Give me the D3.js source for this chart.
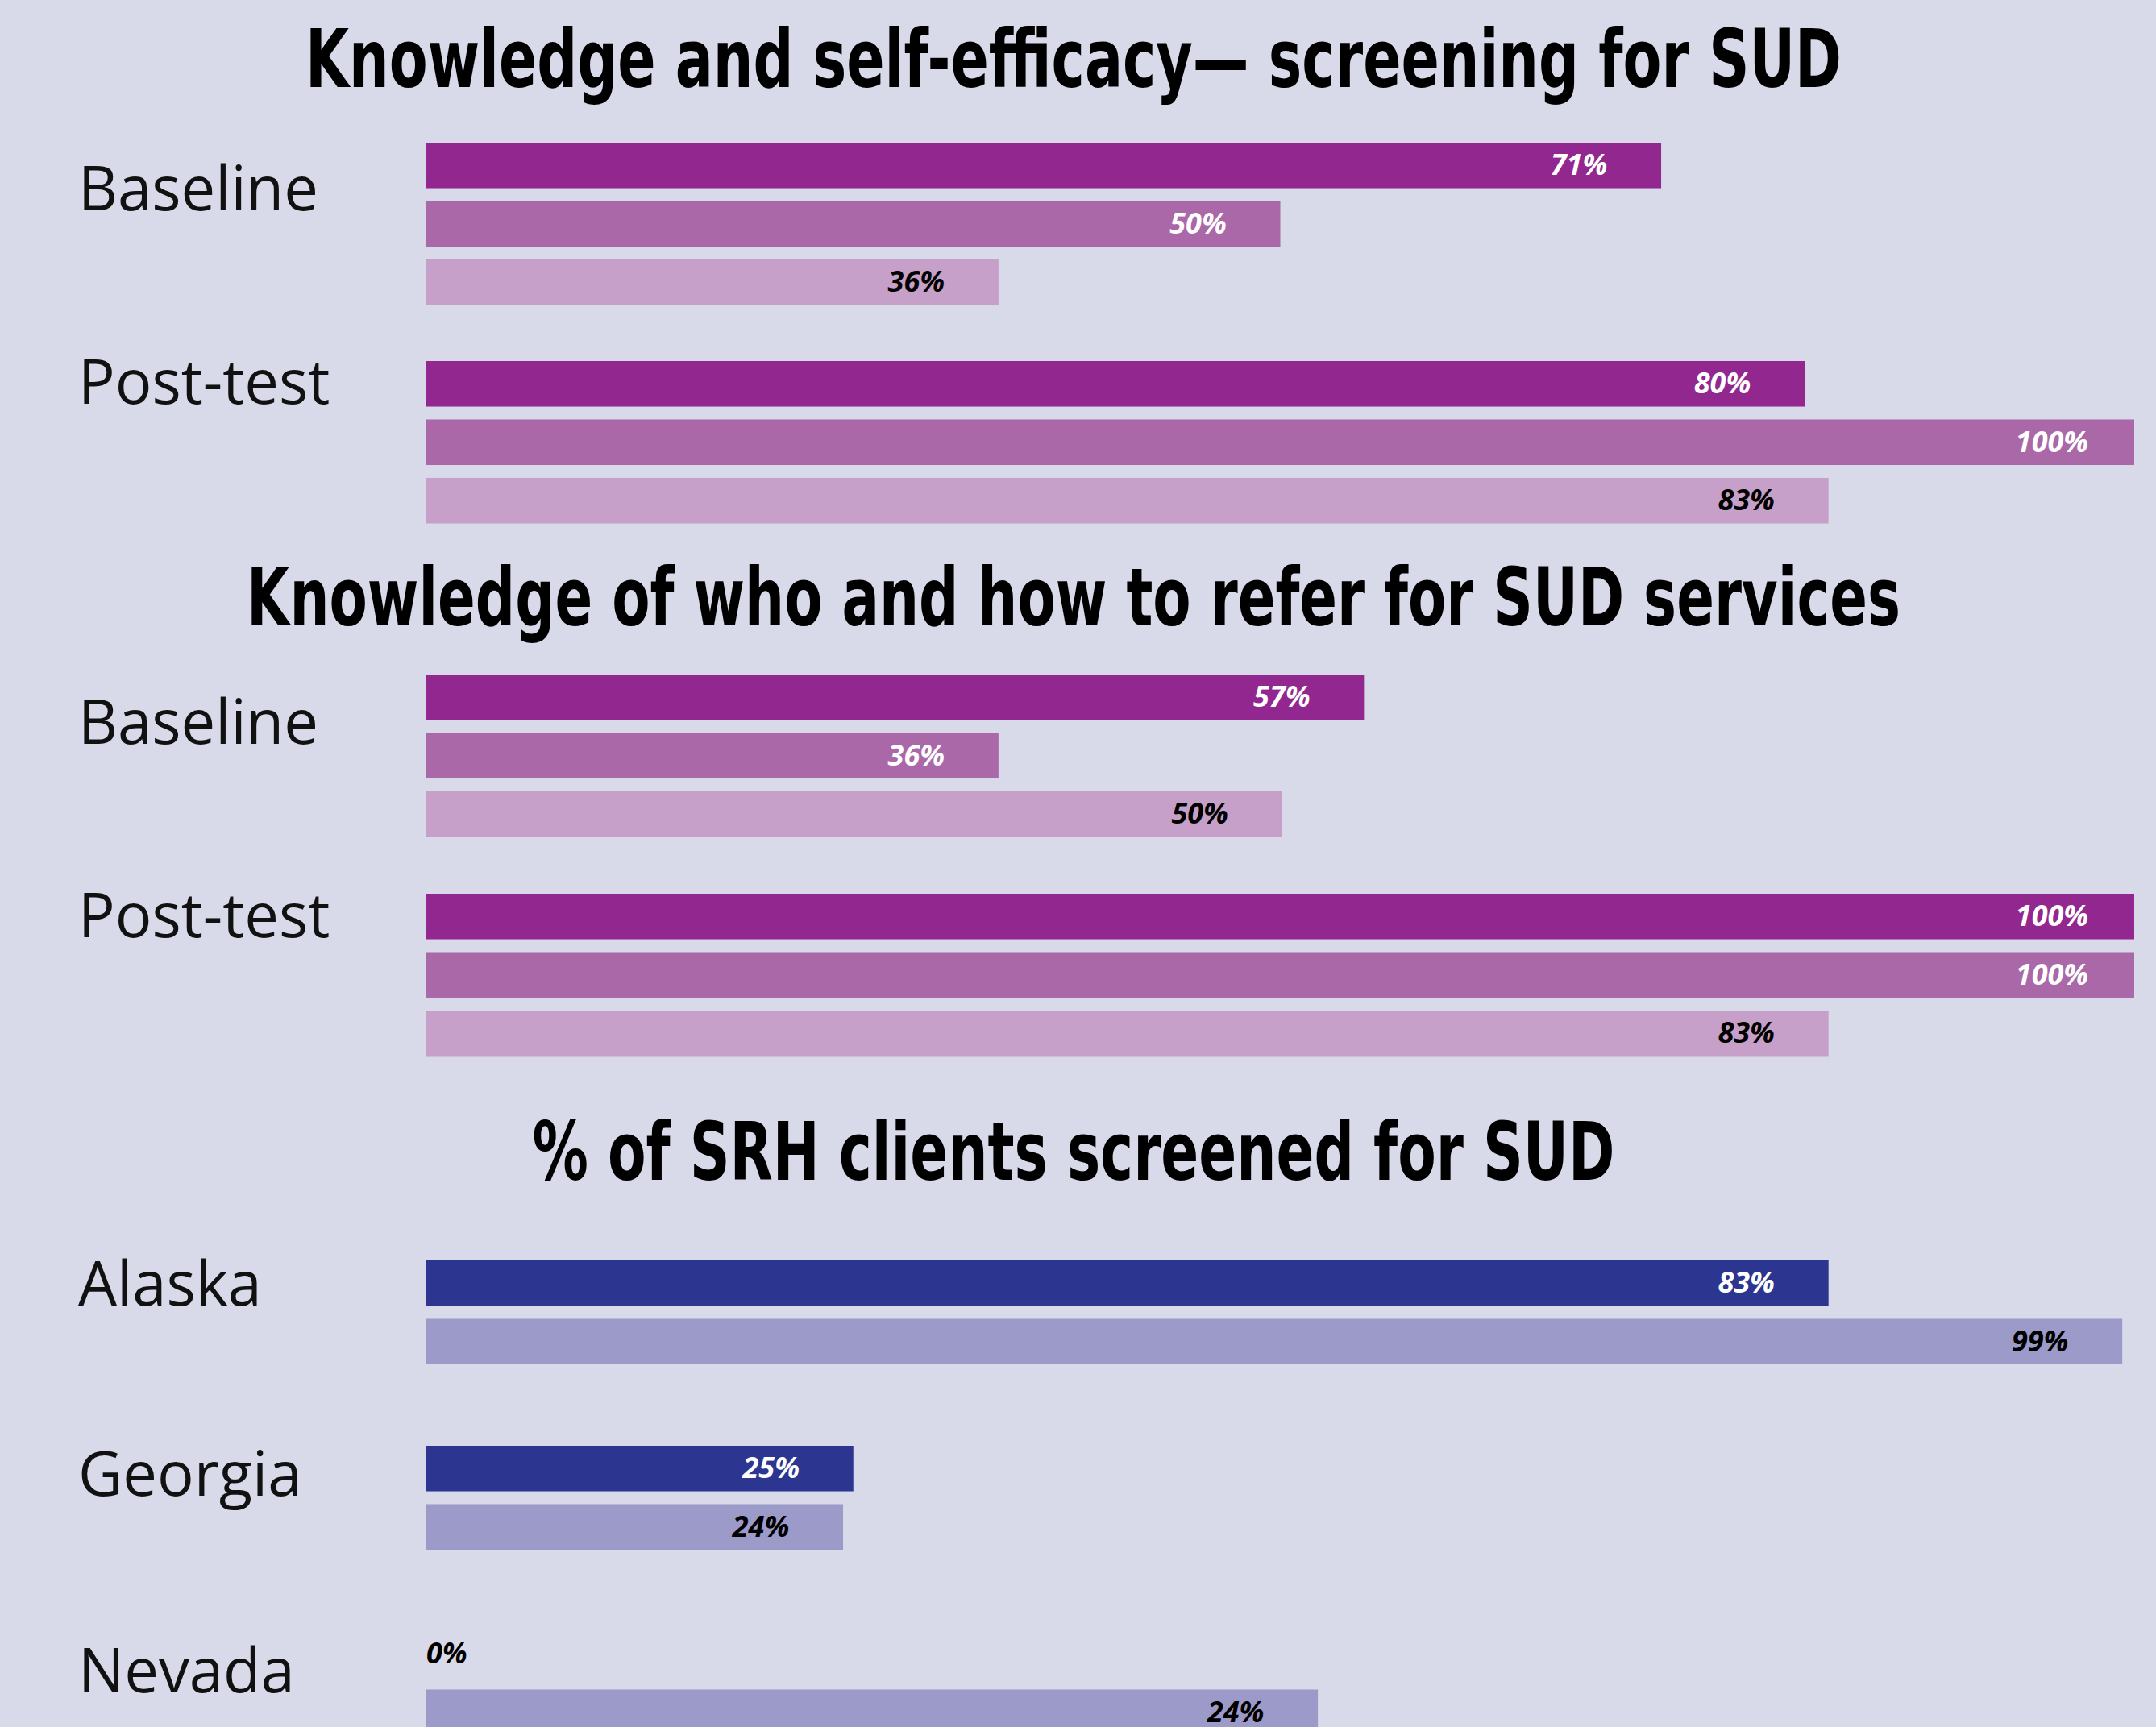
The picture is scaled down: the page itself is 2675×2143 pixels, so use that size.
<html>
  <head>
    <title>SUD screening</title>
    <meta charset="utf-8" />
    <script src="https://cdnjs.cloudflare.com/ajax/libs/d3/7.6.1/d3.min.js"></script>
    <style>
      body {
        margin: 0;
        background: #d9dae9;
      }
      .title {
        font-family: "Liberation Sans Narrow", "DejaVu Sans Condensed", sans-serif;
        font-weight: bold;
        font-size: 100px;
        fill: #000;
      }
      .cat {
        font-family: "Open Sans", sans-serif;
        font-size: 76px;
        fill: #111;
      }
      .val {
        font-family: "Open Sans", sans-serif;
        font-weight: bold;
        font-style: italic;
        font-size: 36px;
      }
    </style>
  </head>
  <body>
    <svg width="2675" height="2143"></svg>
  </body>

  <script>
    // bar lengths as drawn, and the labels printed on them
    const title1 = "Knowledge and self-efficacy\u2014 screening for SUD";
    const groups1 = ["Baseline", "Post-test"];
    const values1 = [[72.3, 50, 33.5], [80.7, 100, 82.1]];
    const labels1 = [["71%", "50%", "36%"], ["80%", "100%", "83%"]];

    const title2 = "Knowledge of who and how to refer for SUD services";
    const groups2 = ["Baseline", "Post-test"];
    const values2 = [[54.9, 33.5, 50.1], [100, 100, 82.1]];
    const labels2 = [["57%", "36%", "50%"], ["100%", "100%", "83%"]];

    const title3 = "% of SRH clients screened for SUD";
    const groups3 = ["Alaska", "Georgia", "Nevada"];
    const values3 = [[82.1, 99.3], [25, 24.4], [0, 52.2]];
    const labels3 = [["83%", "99%"], ["25%", "24%"], ["0%", "24%"]];

    const purples = ["#92278f", "#aa68a8", "#c7a0c9"],
      purpleText = ["#fff", "#fff", "#000"],
      blues = ["#2c358f", "#9c9ac8"],
      blueText = ["#fff", "#000"];

    let svg = d3.select("svg"),
      width = +svg.attr("width");

    svg.append("rect")
      .attr("width", width)
      .attr("height", +svg.attr("height"))
      .attr("fill", "#d9dae9");

    let x = d3.scaleLinear().domain([0, 100]).range([529, 2648]);

    let sections = [
      { title: title1, titleY: 108, titleW: 1906, groups: groups1, values: values1, labels: labels1,
        top: 177, step: 271, colors: purples, text: purpleText, labelDy: [84, 53] },
      { title: title2, titleY: 776, titleW: 2052, groups: groups2, values: values2, labels: labels2,
        top: 837, step: 272, colors: purples, text: purpleText, labelDy: [86, 54] },
      { title: title3, titleY: 1464, titleW: 1343, groups: groups3, values: values3, labels: labels3,
        top: 1564, step: 230, colors: blues, text: blueText, labelDy: [56, 62, 76] }
    ];

    sections.forEach((s) => {
      let g = svg.append("g");

      g.append("text")
        .attr("class", "title")
        .attr("x", 1332)
        .attr("y", s.titleY)
        .attr("text-anchor", "middle")
        .attr("textLength", s.titleW)
        .attr("lengthAdjust", "spacingAndGlyphs")
        .text(s.title);

      let y0 = d3.scaleBand()
        .domain(s.groups)
        .range([s.top, s.top + s.step * s.groups.length]);

      let n = s.values[0].length;
      let y1 = d3.scaleBand()
        .domain(d3.range(n))
        .range([0, 72.5 * (n - 1) + 56.5])
        .paddingInner(0.22);

      let row = g.selectAll(".row")
        .data(s.groups)
        .enter()
        .append("g")
        .attr("class", "row")
        .attr("transform", (d) => `translate(0,${y0(d)})`);

      row.append("text")
        .attr("class", "cat")
        .attr("x", 97)
        .attr("y", (d, i) => s.labelDy[i])
        .text((d) => d);

      row.selectAll(".bar")
        .data((d, i) => s.values[i])
        .enter()
        .append("rect")
        .attr("class", "bar")
        .attr("x", x(0))
        .attr("y", (d, j) => y1(j))
        .attr("width", (d) => x(d) - x(0))
        .attr("height", y1.bandwidth())
        .attr("fill", (d, j) => s.colors[j]);

      row.selectAll(".val")
        .data((d, i) => s.values[i].map((v, j) => ({ v: v, t: s.labels[i][j] })))
        .enter()
        .append("text")
        .attr("class", "val")
        .attr("x", (d) => (d.v < 5 ? x(0) : x(d.v) - 102))
        .attr("y", (d, j) => y1(j) + y1.bandwidth() / 2 + 12)
        .attr("text-anchor", (d) => (d.v < 5 ? "start" : "middle"))
        .attr("fill", (d, j) => (d.v < 5 ? "#000" : s.text[j]))
        .text((d) => d.t);
    });
  </script>
</html>
